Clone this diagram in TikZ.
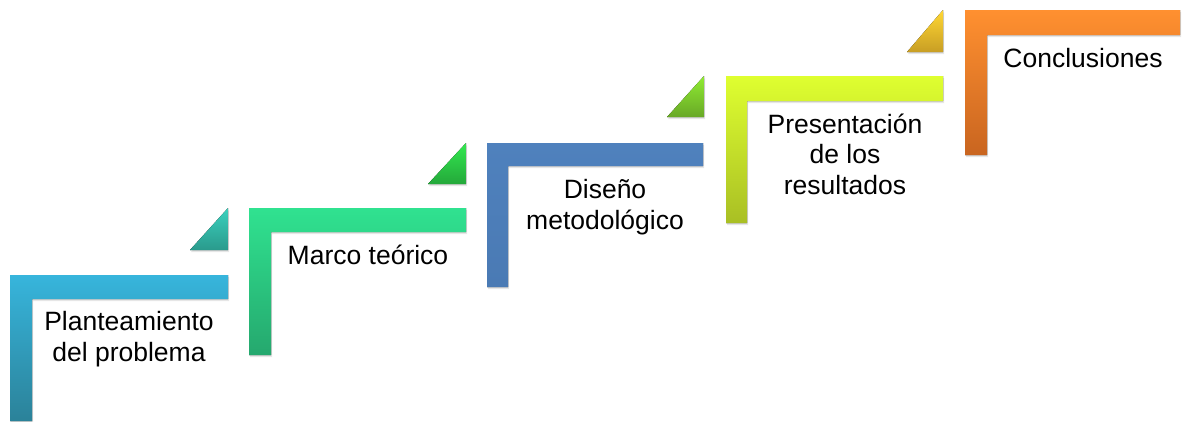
\documentclass[tikz,border=0pt]{standalone}
\usepackage{fontspec}
\setmainfont{Liberation Sans}
\usetikzlibrary{shadows}

\definecolor{planTop}{HTML}{37B5DC}
\definecolor{planBot}{HTML}{2B8299}
\definecolor{marcoTop}{HTML}{30E290}
\definecolor{marcoBot}{HTML}{25A86E}
\definecolor{disenoTop}{HTML}{4F81BD}
\definecolor{disenoBot}{HTML}{4A7AB4}
\definecolor{resultTop}{HTML}{DFFF30}
\definecolor{resultBot}{HTML}{A9BF24}
\definecolor{conclTop}{HTML}{FF9030}
\definecolor{conclBot}{HTML}{C96520}
\definecolor{triaTop}{HTML}{3BD1BE}
\definecolor{triaBot}{HTML}{2A9A8C}
\definecolor{tribTop}{HTML}{33E850}
\definecolor{tribBot}{HTML}{24A83A}
\definecolor{tricTop}{HTML}{90EC33}
\definecolor{tricBot}{HTML}{68A826}
\definecolor{tridTop}{HTML}{FFD733}
\definecolor{tridBot}{HTML}{C89E24}

\tikzset{
  bar/.style 2 args={top color=#1, bottom color=#2, draw=none,
    drop shadow={opacity=0.2, shadow xshift=1pt, shadow yshift=-2pt}},
  lbl/.style={font=\fontsize{26.5}{30.5}\selectfont, align=center, anchor=base, inner sep=0pt},
}

\begin{document}
\begin{tikzpicture}[x=1pt, y=-1pt]
    \useasboundingbox (0,0) rectangle (1183,421);
    % steps
    \fill[bar={planTop}{planBot}] (10,275) -- ++(218,0) -- ++(0,24) -- ++(-196,0) -- ++(0,122) -- ++(-22,0) -- cycle;
    \fill[bar={marcoTop}{marcoBot}] (249,208) -- ++(217,0) -- ++(0,24) -- ++(-195,0) -- ++(0,123) -- ++(-22,0) -- cycle;
    \fill[bar={disenoTop}{disenoBot}] (487,143) -- ++(216,0) -- ++(0,23) -- ++(-195,0) -- ++(0,121) -- ++(-21,0) -- cycle;
    \fill[bar={resultTop}{resultBot}] (726,76) -- ++(217,0) -- ++(0,25) -- ++(-196,0) -- ++(0,122) -- ++(-21,0) -- cycle;
    \fill[bar={conclTop}{conclBot}] (965,10) -- ++(215,0) -- ++(0,25) -- ++(-193,0) -- ++(0,120) -- ++(-22,0) -- cycle;
    % small triangles
    \fill[bar={triaTop}{triaBot}] (228,250) -- (190,250) -- (228,208) -- cycle;
    \fill[bar={tribTop}{tribBot}] (466,184) -- (428,184) -- (466,143) -- cycle;
    \fill[bar={tricTop}{tricBot}] (704,117) -- (667,117) -- (704,76) -- cycle;
    \fill[bar={tridTop}{tridBot}] (943,52) -- (907,52) -- (943,10) -- cycle;
    % labels (base = last line)
    \node[lbl] (plan) at (129,361) {Planteamiento\\del problema};
    \node[lbl] (marco) at (368,264) {Marco teórico};
    \node[lbl] (diseno) at (605,229) {Diseño\\metodológico};
    \node[lbl] (result) at (845,194) {Presentación\\de los\\resultados};
    \node[lbl] (concl) at (1083,67) {Conclusiones};
\end{tikzpicture}
\end{document}
